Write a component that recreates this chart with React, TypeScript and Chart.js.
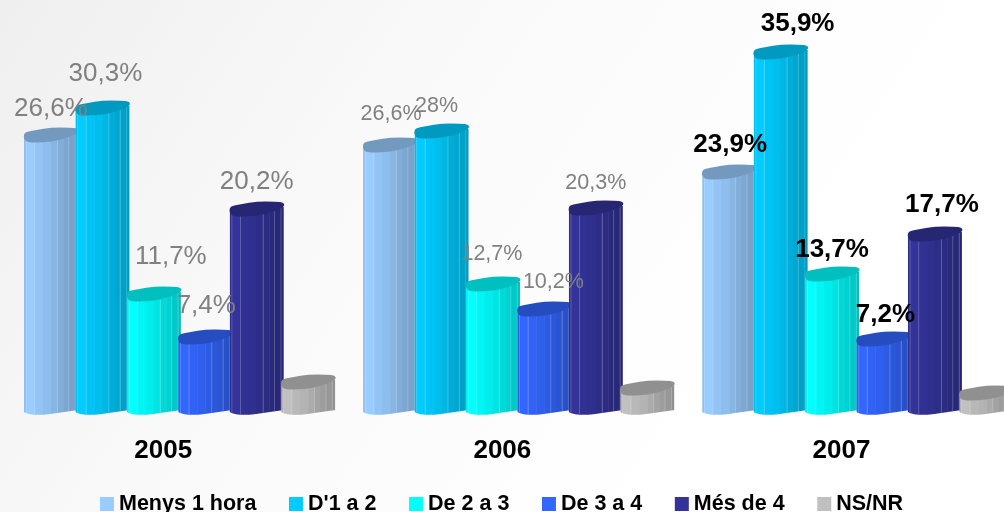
import React, { useEffect, useRef } from "react";
import { Chart, registerables } from "chart.js";

Chart.register(...registerables);

const years = ["2005", "2006", "2007"];
const seriesNames = ["Menys 1 hora", "D'1 a 2", "De 2 a 3", "De 3 a 4", "Més de 4", "NS/NR"];
const seriesColors = ["#99CCFF", "#00CCFF", "#00FFFF", "#3366FF", "#333399", "#C0C0C0"];

const menys1Hora = [27.6, 26.6, 23.9];
const de1a2 = [30.3, 28, 35.9];
const de2a3 = [11.7, 12.7, 13.7];
const de3a4 = [7.4, 10.2, 7.2];
const mesDe4 = [20.2, 20.3, 17.7];
const nsNr = [2.9, 2.3, 1.8];
const seriesValues = [menys1Hora, de1a2, de2a3, de3a4, mesDe4, nsNr];

const labelsMenys1Hora = ["26,6%", "26,6%", "23,9%"];
const labelsDe1a2 = ["30,3%", "28%", "35,9%"];
const labelsDe2a3 = ["11,7%", "12,7%", "13,7%"];
const labelsDe3a4 = ["7,4%", "10,2%", "7,2%"];
const labelsMesDe4 = ["20,2%", "20,3%", "17,7%"];
const seriesLabels = [labelsMenys1Hora, labelsDe1a2, labelsDe2a3, labelsDe3a4, labelsMesDe4, []];

// label nudges from the default "centred above the bar" anchor, per year then series
const nudgeX = [
  [0, 3, 17, 1, 0],
  [1, -5, -1, 9, 0],
  [1, 17, 0, 2, 7],
];
const nudgeY = [
  [3, -5, -8, -2, 2],
  [-2, 4, -1, 2, 4],
  [2, 1, 5, 5, 0],
];
const labelFonts = [
  { font: "26px 'Liberation Sans'", color: "#808080" },
  { font: "21.5px 'Liberation Sans'", color: "#808080" },
  { font: "bold 26px 'Liberation Sans'", color: "#000000" },
];

const facetStops = [0, 0.04, 0.2, 0.35, 0.5, 0.62, 0.73, 0.83, 0.95, 1];
const facetShade = [0.93, 1, 0.96, 0.93, 0.89, 0.85, 0.82, 0.79, 0.75];
const facetLines = [0.04, 0.2, 0.62, 0.83, 0.95];

// top cap outline, fractions of the width and pixel offsets from the value's pixel
const capOutline = [
  [0, 0],
  [0.04, -2],
  [0.22, -4],
  [0.5, -6.5],
  [0.85, -6.5],
  [1.01, -5.5],
  [1.01, -0.5],
  [0.65, 6.5],
  [0.35, 8.5],
  [0.06, 8.5],
  [-0.005, 4.5],
];

function shade(hex: string, k: number) {
  const n = parseInt(hex.slice(1), 16);
  const r = Math.round(((n >> 16) & 255) * k);
  const g = Math.round(((n >> 8) & 255) * k);
  const b = Math.round((n & 255) * k);
  return `rgb(${r},${g},${b})`;
}

function drawCylinder(ctx: CanvasRenderingContext2D, x: number, y: number, base: number, w: number, color: string) {
  ctx.save();
  // body
  ctx.beginPath();
  ctx.moveTo(x, y + 2);
  ctx.lineTo(x, base + 2);
  ctx.bezierCurveTo(x + 0.1 * w, base + 5.5, x + 0.35 * w, base + 5.5, x + 0.55 * w, base + 3.5);
  ctx.lineTo(x + w, base);
  ctx.lineTo(x + w, y - 1);
  ctx.closePath();
  ctx.save();
  ctx.clip();
  facetShade.forEach((k, i) => {
    const from = facetStops[i];
    const to = facetStops[i + 1];
    ctx.fillStyle = shade(color, k);
    ctx.fillRect(x + from * w, y - 10, (to - from) * w + 0.5, base - y + 20);
  });
  ctx.strokeStyle = "rgba(255,255,255,0.22)";
  ctx.lineWidth = 1;
  facetLines.forEach((f) => {
    ctx.beginPath();
    ctx.moveTo(x + f * w, y);
    ctx.lineTo(x + f * w, base + 8);
    ctx.stroke();
  });
  ctx.restore();
  // top cap: a smooth curve through the midpoints of the outline
  const pts = capOutline.map(([fx, dy]) => [x + fx * w, y + dy]);
  const mid = (a: number[], b: number[]) => [(a[0] + b[0]) / 2, (a[1] + b[1]) / 2];
  const start = mid(pts[pts.length - 1], pts[0]);
  ctx.beginPath();
  ctx.moveTo(start[0], start[1]);
  pts.forEach((p, i) => {
    const m = mid(p, pts[(i + 1) % pts.length]);
    ctx.quadraticCurveTo(p[0], p[1], m[0], m[1]);
  });
  ctx.closePath();
  ctx.fillStyle = shade(color, 0.75);
  ctx.fill();
  ctx.restore();
}

const cylinderPlugin = {
  id: "cylinders",
  beforeDraw(chart: any) {
    const { ctx, height } = chart;
    const bg = ctx.createLinearGradient(0, 0, 753, height);
    bg.addColorStop(0, "#EFEFEF");
    bg.addColorStop(0.4, "#F9F9F9");
    bg.addColorStop(0.9, "#FFFFFF");
    ctx.fillStyle = bg;
    ctx.fillRect(0, 0, chart.width, height);
  },
  beforeDatasetDraw() {
    return false;
  },
  afterDatasetsDraw(chart: any) {
    const { ctx } = chart;
    chart.data.datasets.forEach((ds: any, i: number) => {
      chart.getDatasetMeta(i).data.forEach((bar: any) => {
        drawCylinder(ctx, bar.x - bar.width / 2, bar.y, bar.base, bar.width + 2.6, ds.backgroundColor);
      });
    });
    ctx.save();
    ctx.textAlign = "center";
    ctx.textBaseline = "middle";
    seriesLabels.forEach((labels, i) => {
      labels.forEach((text, j) => {
        const bar = chart.getDatasetMeta(i).data[j];
        ctx.font = labelFonts[j].font;
        ctx.fillStyle = labelFonts[j].color;
        ctx.fillText(text, bar.x + 1.3 + nudgeX[j][i], bar.y - 28 + nudgeY[j][i]);
      });
    });
    ctx.restore();
  },
  afterDraw(chart: any) {
    const { ctx } = chart;
    ctx.save();
    ctx.font = "bold 21.5px 'Liberation Sans'";
    ctx.textAlign = "left";
    ctx.textBaseline = "alphabetic";
    let x = 100;
    seriesNames.forEach((name, i) => {
      ctx.fillStyle = seriesColors[i];
      ctx.fillRect(x, 497, 14, 14);
      ctx.fillStyle = "#000000";
      ctx.fillText(name, x + 19, 510);
      x += 19 + ctx.measureText(name).width + 32.6;
    });
    ctx.restore();
  },
};

export default function App() {
  const ref = useRef<HTMLCanvasElement>(null);
  useEffect(() => {
    document.body.style.margin = "0";
    const chart = new Chart(ref.current!, {
      type: "bar",
      data: {
        labels: years,
        datasets: seriesNames.map((name, i) => ({
          label: name,
          data: seriesValues[i],
          backgroundColor: seriesColors[i],
        })),
      },
      plugins: [cylinderPlugin],
      options: {
        responsive: false,
        animation: false,
        layout: { padding: { left: 8.7, right: 0, top: 10, bottom: 0 } },
        categoryPercentage: 0.91,
        barPercentage: 1,
        plugins: { legend: { display: false }, tooltip: { enabled: false }, title: { display: false } },
        scales: {
          y: { display: false, min: 0, max: 40 },
          x: {
            grid: { display: false },
            border: { display: false },
            afterFit(scale: any) {
              scale.height = 102;
            },
            ticks: {
              color: "#000000",
              padding: 17,
              labelOffset: -15,
              maxRotation: 0,
              font: { family: "'Liberation Sans'", size: 26, weight: "bold" },
            },
          },
        },
      } as any,
    });
    return () => chart.destroy();
  }, []);
  return (
    <div style={{ width: 1004, height: 512, overflow: "hidden" }}>
      <canvas ref={ref} width={1026} height={512} style={{ display: "block", width: 1026, height: 512 }} />
    </div>
  );
}
